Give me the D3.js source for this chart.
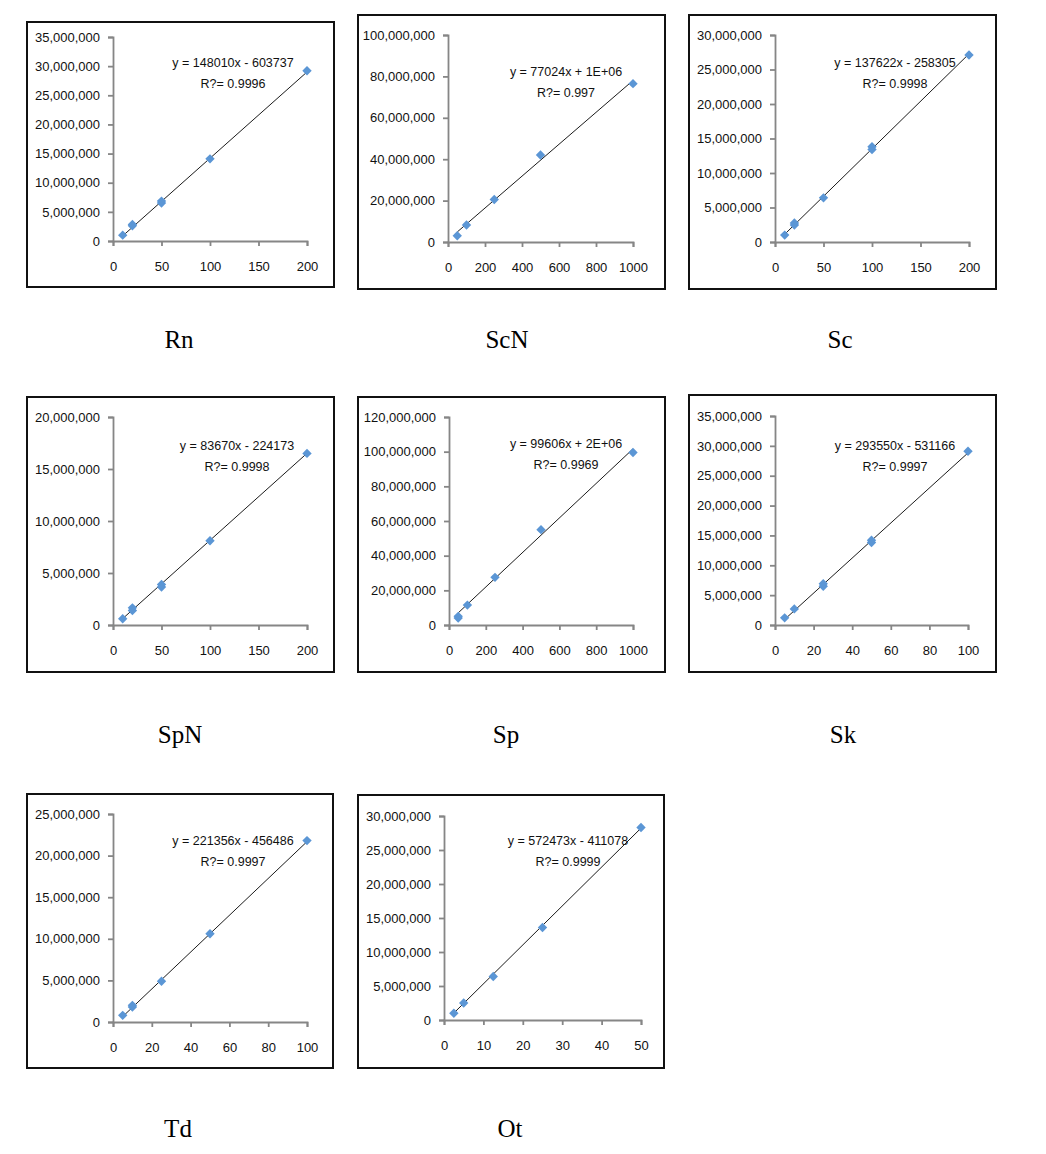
<!DOCTYPE html>
<html>
<head>
<meta charset="utf-8">
<script src="https://cdn.jsdelivr.net/npm/d3@7"></script>
<style>
  body { margin: 0; background: #fff; }
  svg { display: block; }
</style>
</head>
<body>
<svg id="chart" width="1046" height="1154"></svg>
<script>
// ---------------- data ----------------
const names = ["Rn", "ScN", "Sc", "SpN", "Sp", "Sk", "Td", "Ot"];

// replicate measurements share the same x value
const xRn  = [10, 20, 20, 50, 50, 100, 200];
const yRn  = [1000000, 2600000, 2850000, 6500000, 6850000, 14100000, 29200000];
const xScN = [50, 100, 250, 500, 1000];
const yScN = [3000000, 8200000, 20500000, 42000000, 76500000];
const xSc  = [10, 20, 20, 50, 100, 100, 200];
const ySc  = [1000000, 2450000, 2750000, 6400000, 13400000, 13800000, 27100000];
const xSpN = [10, 20, 20, 50, 50, 100, 200];
const ySpN = [600000, 1400000, 1650000, 3650000, 3900000, 8100000, 16500000];
const xSp  = [50, 50, 100, 250, 500, 1000];
const ySp  = [4000000, 5000000, 11500000, 27500000, 55000000, 99500000];
const xSk  = [5, 10, 25, 25, 50, 50, 100];
const ySk  = [1200000, 2700000, 6500000, 6900000, 13800000, 14200000, 29100000];
const xTd  = [5, 10, 10, 25, 50, 100];
const yTd  = [800000, 1800000, 2000000, 4900000, 10600000, 21800000];
const xOt  = [2.5, 5, 12.5, 25, 50];
const yOt  = [1000000, 2500000, 6400000, 13600000, 28300000];

const xSeries = [xRn, xScN, xSc, xSpN, xSp, xSk, xTd, xOt];
const ySeries = [yRn, yScN, ySc, ySpN, ySp, ySk, yTd, yOt];

const slopes     = [148010, 77024, 137622, 83670, 99606, 293550, 221356, 572473];
const intercepts = [-603737, 1000000, -258305, -224173, 2000000, -531166, -456486, -411078];
const equations  = ["y = 148010x - 603737", "y = 77024x + 1E+06", "y = 137622x - 258305",
                    "y = 83670x - 224173", "y = 99606x + 2E+06", "y = 293550x - 531166",
                    "y = 221356x - 456486", "y = 572473x - 411078"];
const r2Labels   = ["R?= 0.9996", "R?= 0.997", "R?= 0.9998", "R?= 0.9998",
                    "R?= 0.9969", "R?= 0.9997", "R?= 0.9997", "R?= 0.9999"];

const xTicks = [
  [0, 50, 100, 150, 200],
  [0, 200, 400, 600, 800, 1000],
  [0, 50, 100, 150, 200],
  [0, 50, 100, 150, 200],
  [0, 200, 400, 600, 800, 1000],
  [0, 20, 40, 60, 80, 100],
  [0, 20, 40, 60, 80, 100],
  [0, 10, 20, 30, 40, 50]
];
const yTicks = [
  [0, 5e6, 10e6, 15e6, 20e6, 25e6, 30e6, 35e6],
  [0, 20e6, 40e6, 60e6, 80e6, 100e6],
  [0, 5e6, 10e6, 15e6, 20e6, 25e6, 30e6],
  [0, 5e6, 10e6, 15e6, 20e6],
  [0, 20e6, 40e6, 60e6, 80e6, 100e6, 120e6],
  [0, 5e6, 10e6, 15e6, 20e6, 25e6, 30e6, 35e6],
  [0, 5e6, 10e6, 15e6, 20e6, 25e6],
  [0, 5e6, 10e6, 15e6, 20e6, 25e6, 30e6]
];

// ---------------- layout ----------------
// frame: [x0, y0, x1, y1]; plot: [left, right, top, bottom]; eq: [centerX, baseline1]; label: [cx, baseline]
const frames = [
  [27, 22, 334, 287], [358, 15, 665, 289], [689, 15, 996, 289],
  [27, 397, 334, 672], [358, 397, 665, 672], [689, 395, 996, 672],
  [27, 794, 333, 1068], [358, 795, 664, 1068]
];
const plots = [
  [113, 307, 37, 241], [448, 633, 35, 242], [775, 969, 35, 242],
  [113, 307, 417, 625], [449, 633, 417, 625], [775, 968, 416, 625],
  [113, 307, 814, 1022], [444, 641, 816, 1020]
];
const eqPos = [
  [233, 67], [566, 76], [895, 67],
  [237, 450], [566, 448], [895, 450],
  [233, 845], [568, 845]
];
const labelPos = [
  [179, 348], [507, 348], [840, 348],
  [180, 743], [506, 743], [843, 743],
  [178, 1137], [510, 1137]
];

const svg = d3.select("#chart");
const fmt = d3.format(",");
const tickFont = "Liberation Sans, Arial, sans-serif";
const markerColor = "#5b96d5";
const axisColor = "#868686";

names.forEach((name, i) => {
  const [fx0, fy0, fx1, fy1] = frames[i];
  svg.append("rect")
    .attr("x", fx0).attr("y", fy0)
    .attr("width", fx1 - fx0).attr("height", fy1 - fy0)
    .attr("fill", "#fff").attr("stroke", "#111").attr("stroke-width", 2);

  const [pl, pr, pt, pb] = plots[i];
  const xt = xTicks[i], yt = yTicks[i];
  const x = d3.scaleLinear().domain([0, xt[xt.length - 1]]).range([pl, pr]);
  const y = d3.scaleLinear().domain([0, yt[yt.length - 1]]).range([pb, pt]);

  const g = svg.append("g");

  // y axis
  const ya = g.append("g").attr("transform", `translate(${pl},0)`)
    .call(d3.axisLeft(y).tickValues(yt).tickFormat(fmt).tickSizeOuter(0).tickSize(5).tickPadding(8));
  // x axis
  const xa = g.append("g").attr("transform", `translate(0,${pb})`)
    .call(d3.axisBottom(x).tickValues(xt).tickFormat(d => d).tickSizeOuter(0).tickSize(5).tickPadding(16));
  [ya, xa].forEach(a => {
    a.select(".domain").attr("stroke", axisColor).attr("stroke-width", 1.8);
    a.selectAll(".tick line").attr("stroke", axisColor).attr("stroke-width", 1.8);
    a.selectAll(".tick text").attr("fill", "#111")
      .style("font-family", tickFont).style("font-size", "13px");
  });

  // trendline
  const xs = xSeries[i], ys = ySeries[i];
  const xmin = d3.min(xs), xmax = d3.max(xs);
  g.append("line")
    .attr("x1", x(xmin)).attr("y1", y(slopes[i] * xmin + intercepts[i]))
    .attr("x2", x(xmax)).attr("y2", y(slopes[i] * xmax + intercepts[i]))
    .attr("stroke", "#000").attr("stroke-width", 0.9);

  // markers
  const diamond = d3.symbol().type(d3.symbolSquare).size(44);
  g.selectAll("path.pt").data(xs.map((v, k) => [v, ys[k]])).join("path")
    .attr("class", "pt")
    .attr("d", diamond)
    .attr("transform", d => `translate(${x(d[0])},${y(d[1])}) rotate(45)`)
    .attr("fill", markerColor);

  // equation text
  const [ex, ey] = eqPos[i];
  g.append("text").attr("x", ex).attr("y", ey).attr("text-anchor", "middle")
    .style("font-family", tickFont).style("font-size", "12.5px").attr("fill", "#111")
    .text(equations[i]);
  g.append("text").attr("x", ex).attr("y", ey + 21).attr("text-anchor", "middle")
    .style("font-family", tickFont).style("font-size", "12.5px").attr("fill", "#111")
    .text(r2Labels[i]);

  // panel label
  const [lx, ly] = labelPos[i];
  svg.append("text").attr("x", lx).attr("y", ly).attr("text-anchor", "middle")
    .style("font-family", "Liberation Serif, Times New Roman, serif").style("font-size", "25px")
    .attr("fill", "#000").text(name);
});
</script>
</body>
</html>
